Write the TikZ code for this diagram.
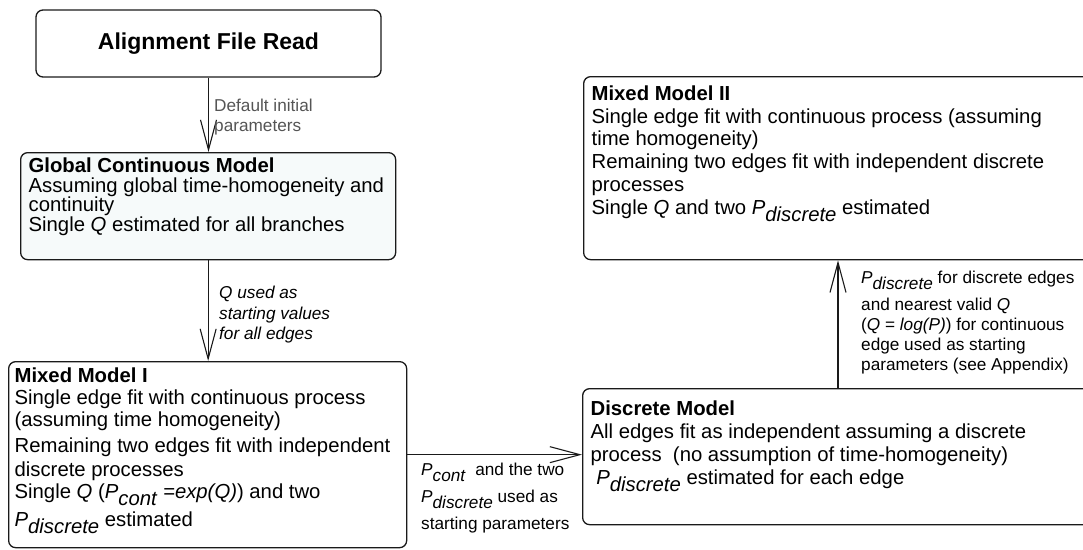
\documentclass[tikz,border=0pt]{standalone}
\usepackage{fontspec}
\setmainfont{Liberation Sans}
\usepackage{xcolor}
\usepackage{tikz}
\usetikzlibrary{arrows.meta}
\definecolor{boxline}{HTML}{1A1A1A}
\definecolor{notegray}{HTML}{555555}
\definecolor{globalfill}{HTML}{F6FAFA}
% P with a dropped italic subscript
\newcommand{\Psub}[1]{\textit{P}\raisebox{-0.35em}{\textit{#1}}}
% top aligned body of a model box: height, width, line pitch, text
\newcommand{\boxbody}[4]{\parbox[c][#1][t]{#2}{\fontsize{20.3}{#3}\selectfont\raggedright #4}}
\tikzset{
  modelbox/.style={draw=boxline, line width=1.3pt, rounded corners=7pt,
    anchor=north west, inner xsep=8pt, inner ysep=6pt},
  flow/.style={boxline, line width=1.1pt,
    -{Straight Barb[length=30pt,width=16pt]}},
  note/.style={anchor=north west, align=left, inner sep=0pt,
    font=\fontsize{17.2}{20}\selectfont}
}

\begin{document}
\begin{tikzpicture}[x=1pt,y=-1pt]
  \useasboundingbox (0,0) rectangle (1083,549);
  \clip (0,0) rectangle (1083,549);

  % model boxes
  \node[draw=boxline, line width=1.3pt, rounded corners=7pt,
        minimum width=345pt, minimum height=67pt,
        font=\fontsize{23}{27}\selectfont\bfseries] (align) at (208.5,43.5)
    {Alignment File Read};
  \node[modelbox, fill=globalfill, inner ysep=5pt] (global) at (20,152)
    {\boxbody{97pt}{359pt}{19.7pt}{\textbf{Global Continuous Model}\\
     Assuming global time-homogeneity and\\
     continuity\\
     Single \textit{Q} estimated for all branches}};
  \node[modelbox, inner xsep=6pt] (mixedI) at (8,361)
    {\boxbody{174pt}{386pt}{22pt}{\textbf{Mixed Model I}\\
     Single edge fit with continuous process\\
     (assuming time homogeneity)\\[4pt]
     Remaining two edges fit with independent\\[2pt]
     discrete processes\\
     Single \textit{Q} (\Psub{cont} \textit{=exp(Q)}) and two\\[5pt]
     \Psub{discrete} estimated}};
  \node[modelbox, inner ysep=9pt] (mixedII) at (583,76)
    {\boxbody{165pt}{500pt}{22.8pt}{\textbf{Mixed Model II}\\
     Single edge fit with continuous process (assuming\\
     time homogeneity)\\
     Remaining two edges fit with independent discrete\\
     processes\\
     Single \textit{Q} and two \Psub{discrete} estimated}};
  \node[modelbox, inner ysep=12pt] (discrete) at (582,388)
    {\boxbody{112pt}{500pt}{23pt}{\textbf{Discrete Model}\\
     All edges fit as independent assuming a discrete\\
     process\ \ (no assumption of time-homogeneity)\\
     \ \Psub{discrete} estimated for each edge}};

  % connectors
  \coordinate (up) at (838,0);
  \draw[flow] (align.south) -- (align.south |- global.north);
  \draw[flow] (global.south) -- (global.south |- mixedI.north);
  \draw[flow] (mixedI.east) -- (mixedI.east -| discrete.west);
  \draw[flow] (discrete.north -| up) -- (mixedII.south -| up);

  % connector notes
  \node[note, text=notegray] (defaultnote) at (214,99)
    {Default initial\\parameters};
  \node[note, font=\fontsize{17.2}{20.5}\selectfont\itshape] (qnote) at (219,286)
    {Q used as\\starting values\\for all edges};
  \node[note, font=\fontsize{17.2}{27}\selectfont] (pnote) at (421,463)
    {\Psub{cont}\ \ and the two\\\Psub{discrete} used as\\starting parameters};
  \node[note] (qpnote) at (861,271)
    {\Psub{discrete} for discrete edges\\[7pt]
     and nearest valid \textit{Q}\\
     (\textit{Q} = \textit{log(P)}) for continuous\\
     edge used as starting\\
     parameters (see Appendix)};
\end{tikzpicture}
\end{document}
